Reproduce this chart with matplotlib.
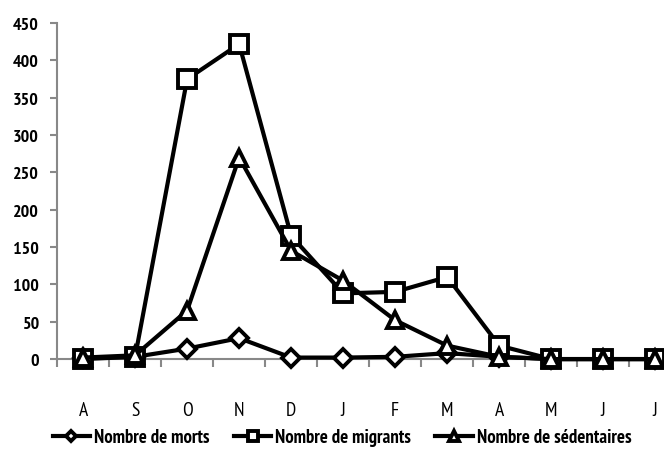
import matplotlib.pyplot as plt

plt.rcParams['font.family'] = ['PT Sans Narrow', 'DejaVu Sans']

months = ['A', 'S', 'O', 'N', 'D', 'J', 'F', 'M', 'A', 'M', 'J', 'J']
morts = [2, 3, 14, 28, 2, 2, 3, 8, 3, 0, 0, 0]
migrants = [0, 3, 375, 422, 165, 88, 90, 110, 18, 0, 0, 0]
sedentaires = [2, 5, 65, 270, 145, 105, 52, 18, 3, 0, 0, 0]

fig = plt.figure(figsize=(6.64, 4.64), dpi=100)
ax = fig.add_axes([0.086, 0.224, 0.94, 0.724])

x = range(len(months))
style = dict(color='black', lw=3, markerfacecolor='white', markeredgecolor='black',
             markeredgewidth=2.8, clip_on=False)
ax.plot(x, morts, marker='D', markersize=9, label='Nombre de morts', zorder=3, **style)
ax.plot(x, migrants, marker='s', markersize=13, label='Nombre de migrants', zorder=4, **style)
ax.plot(x, sedentaires, marker='^', markersize=12, label='Nombre de sédentaires', zorder=5, **style)

ax.set_xlim(-0.5, 11.5)
ax.set_ylim(0, 450)
ax.set_yticks(range(0, 451, 50))
ax.set_xticks(list(x))
ax.set_xticklabels(months)
ax.set_xticks([i + 0.5 for i in range(-1, 12)], minor=True)
ax.tick_params(axis='x', which='major', length=0, pad=30, labelsize=14)
ax.tick_params(axis='x', which='minor', length=6, color='#888888', width=1.5)
ax.tick_params(axis='y', length=5, color='#888888', width=1.5, labelsize=13, pad=8)
for lab in ax.get_yticklabels():
    lab.set_fontweight('bold')

for s in ['top', 'right']:
    ax.spines[s].set_visible(False)
for s in ['left', 'bottom']:
    ax.spines[s].set_color('#888888')
    ax.spines[s].set_linewidth(1.5)

leg = fig.legend(loc='lower center', bbox_to_anchor=(0.515, 0.0), ncol=3, frameon=False,
                 prop={'weight': 'bold', 'size': 13.5}, handlelength=2.0, handletextpad=0.2,
                 columnspacing=1.3, markerscale=0.6)

fig.savefig('out.png', dpi=100)
